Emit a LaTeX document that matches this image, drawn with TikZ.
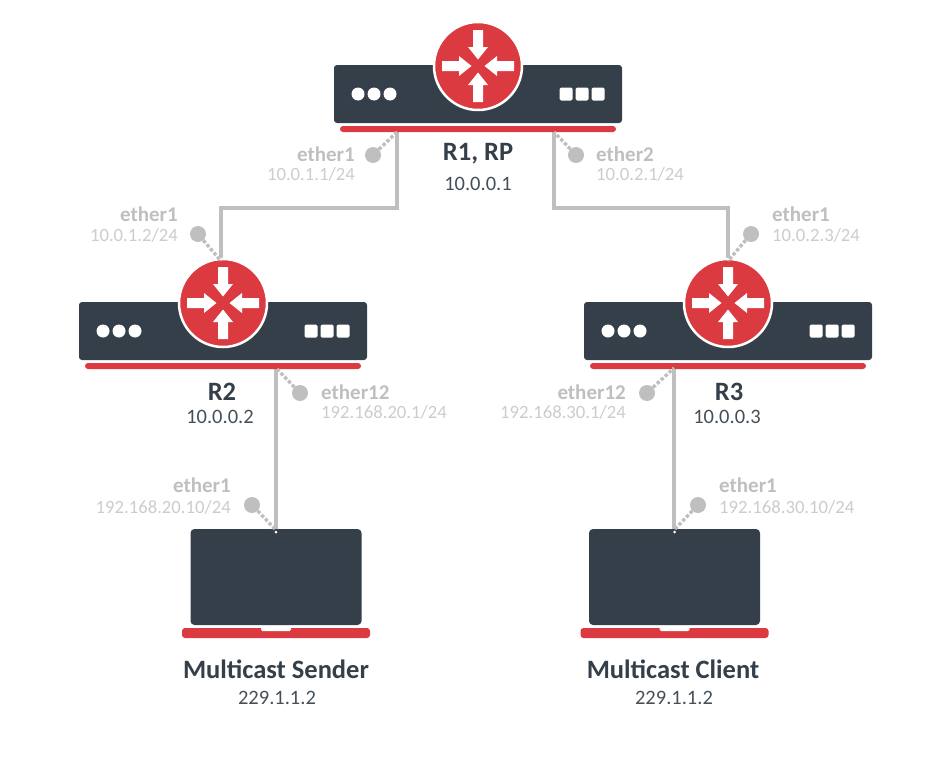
\documentclass[tikz,border=0pt]{standalone}
\usepackage{fontspec}
\setmainfont{Carlito}
\usetikzlibrary{positioning}
\definecolor{darkslate}{HTML}{343F49}
\definecolor{routerred}{HTML}{DC3A41}
\definecolor{linegray}{HTML}{BFBFBF}
\definecolor{addrgray}{HTML}{CCCCCC}
\definecolor{addrdark}{HTML}{444F58}
\tikzset{
  body/.style={fill=darkslate,rounded corners=3pt,minimum width=288pt,minimum height=58pt,inner sep=0pt},
  redbar/.style={fill=routerred,rounded corners=3pt,minimum height=6pt,inner sep=0pt},
  hub/.style={circle,fill=routerred,draw=white,line width=2.5pt,minimum size=88pt,inner sep=0pt},
  laptop/.style={fill=darkslate,rounded corners=4pt,minimum width=171pt,minimum height=96pt,inner sep=0pt},
  port/.style={circle,fill=linegray,minimum size=16pt,inner sep=0pt},
  wire/.style={linegray,line width=3.4pt},
  link/.style={linegray,line width=3.4pt,dotted,line cap=butt},
  title/.style={darkslate,font=\fontsize{26.5}{27}\selectfont\bfseries,inner sep=0pt},
  addr/.style={addrdark,font=\fontsize{20.5}{21}\selectfont,inner sep=0pt},
  ifname/.style={linegray,font=\fontsize{21}{21}\selectfont\bfseries,inner sep=0pt},
  ifaddr/.style={addrgray,font=\fontsize{18.7}{19}\selectfont,inner sep=0pt},
}
% router: name, x of centre, y of hub centre
\newcommand{\router}[3]{
  \node[body] (#1) at (#2,#3+28) {};
  \node[redbar,minimum width=276pt] (#1bar) at (#2,#3+63) {};
  \foreach \i in {-120,-104,-88} \fill[white] (#2+\i,#3+28) circle (6.5);
  \foreach \i in {88,104,120} \fill[white,rounded corners=1.5pt] (#2+\i-6.5,#3+21.5) rectangle ++(13,13);
  \node[hub] (#1hub) at (#2,#3) {};
  \foreach \a in {0,90,180,270}
    \fill[white,shift={(#2,#3)},rotate=\a] (-36,-5) -- (-19,-5) -- (-19,-10) -- (-6.5,0) -- (-19,10) -- (-19,5) -- (-36,5) -- cycle;
}
% laptop: name, x of centre
\newcommand{\notebook}[2]{
  \node[laptop] (#1) at (#2,577) {};
  \fill[routerred,rounded corners=3pt] (#2-94,628) rectangle (#2+94,638);
  \fill[white,rounded corners=1.5pt] (#2-15,627) rectangle (#2+15,631);
  \fill[white] (#2,532) circle (1.5);
}
\begin{document}
\begin{tikzpicture}[x=1pt,y=-1pt]
\useasboundingbox (0,0) rectangle (950,771);

\coordinate (p1a) at (397,132);
\coordinate (p1b) at (554,132);
\coordinate (k2) at (221,208);
\coordinate (k3) at (728,208);
\coordinate (p2a) at (221,261);
\coordinate (p3a) at (728,261);
\coordinate (p2b) at (276,368);
\coordinate (p3b) at (674,368);
\coordinate (s1) at (276,530);
\coordinate (c1) at (674,530);

%les liens
\draw[wire] (p1a) |- (k2) -- (p2a);
\draw[wire] (p1b) |- (k3) -- (p3a);
\draw[wire] (p2b) -- (s1);
\draw[wire] (p3b) -- (c1);

\router{r1}{478}{66}
\router{r2}{223}{303}
\router{r3}{728}{303}
\notebook{sender}{276}
\notebook{client}{674.5}

\node[port] (d1) at (373,155) {};
\node[port] (d2) at (576,155) {};
\node[port] (d3) at (198,234) {};
\node[port] (d4) at (751,234) {};
\node[port] (d5) at (300,393) {};
\node[port] (d6) at (647,393) {};
\node[port] (d7) at (252,505) {};
\node[port] (d8) at (698,505) {};
\draw[link] (d1) -- (p1a);
\draw[link] (d2) -- (p1b);
\draw[link] (d3) -- (p2a);
\draw[link] (d4) -- (p3a);
\draw[link] (d5) -- (p2b);
\draw[link] (d6) -- (p3b);
\draw[link] (d7) -- (s1);
\draw[link] (d8) -- (c1);

\node[title] (t1) at (478,154) {R1, RP};
\node[addr] (a1) at (478,184) {10.0.0.1};
\node[title] (t2) at (222,392) {R2};
\node[addr] (a2) at (220,417) {10.0.0.2};
\node[title] (t3) at (729,392) {R3};
\node[addr] (a3) at (727,417) {10.0.0.3};
\node[title] (t4) at (276,669) {Multicast Sender};
\node[addr] (a4) at (277,698) {229.1.1.2};
\node[title] (t5) at (673,669) {Multicast Client};
\node[addr] (a5) at (674,698) {229.1.1.2};

\node[ifname,anchor=east] (n1) at (355,154) {ether1};
\node[ifaddr,anchor=east] (i1) at (355,174) {10.0.1.1/24};
\node[ifname,anchor=west] (n2) at (596,154) {ether2};
\node[ifaddr,anchor=west] (i2) at (596,174) {10.0.2.1/24};
\node[ifname,anchor=east] (n3) at (178,214) {ether1};
\node[ifaddr,anchor=east] (i3) at (178,235) {10.0.1.2/24};
\node[ifname,anchor=west] (n4) at (772,214) {ether1};
\node[ifaddr,anchor=west] (i4) at (772,235) {10.0.2.3/24};
\node[ifname,anchor=west] (n5) at (321,392) {ether12};
\node[ifaddr,anchor=west] (i5) at (321,412) {192.168.20.1/24};
\node[ifname,anchor=east] (n6) at (626,392) {ether12};
\node[ifaddr,anchor=east] (i6) at (626,412) {192.168.30.1/24};
\node[ifname,anchor=east] (n7) at (231,485) {ether1};
\node[ifaddr,anchor=east] (i7) at (231,507) {192.168.20.10/24};
\node[ifname,anchor=west] (n8) at (719,485) {ether1};
\node[ifaddr,anchor=west] (i8) at (719,507) {192.168.30.10/24};
\end{tikzpicture}
\end{document}
